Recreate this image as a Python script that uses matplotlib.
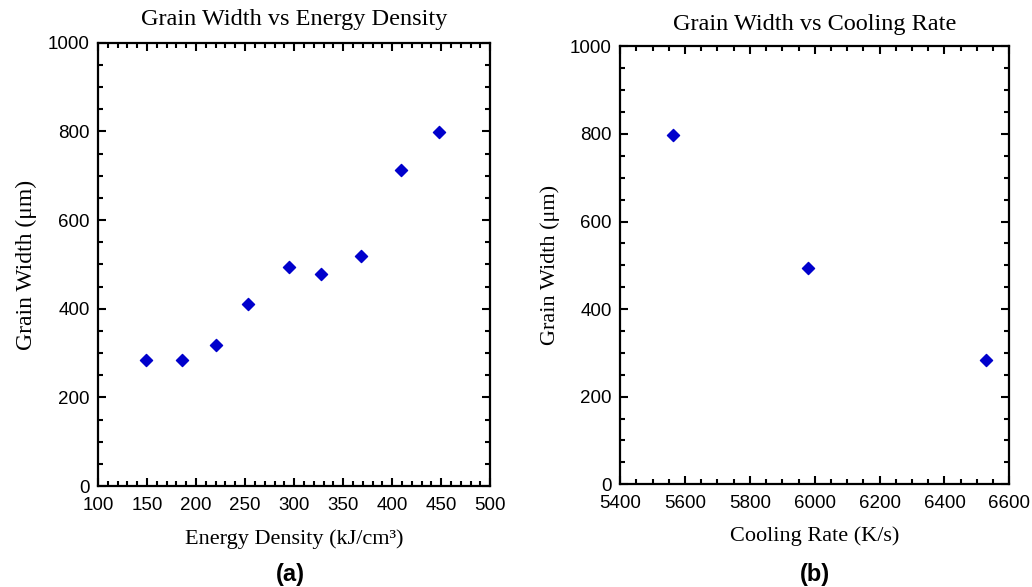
import matplotlib.pyplot as plt
from matplotlib.ticker import MultipleLocator

energy_density = [149, 186, 220, 253, 295, 327, 368, 409, 448]
width_a = [284, 284, 318, 411, 494, 478, 519, 713, 799]

cooling_rate = [5563, 5980, 6529]
width_b = [797, 493, 283]

serif = "Liberation Serif"
sans = "Liberation Sans"

fig = plt.figure(figsize=(10.32, 5.87), dpi=100)
ax1 = fig.add_axes([0.095, 0.172, 0.380, 0.755])
ax2 = fig.add_axes([0.601, 0.175, 0.377, 0.746])


def style(ax, xlim, xmaj, xmin):
    ax.set_xlim(*xlim)
    ax.set_ylim(0, 1000)
    ax.xaxis.set_major_locator(MultipleLocator(xmaj))
    ax.xaxis.set_minor_locator(MultipleLocator(xmin))
    ax.yaxis.set_major_locator(MultipleLocator(200))
    ax.yaxis.set_minor_locator(MultipleLocator(50))
    ax.tick_params(which="both", direction="in", top=True, right=True, width=1.5)
    ax.tick_params(which="major", length=6, labelsize=13.5)
    ax.tick_params(axis="x", which="major", pad=8)
    ax.tick_params(axis="y", which="major", pad=6)
    ax.tick_params(which="minor", length=3.5)
    for lab in ax.get_xticklabels() + ax.get_yticklabels():
        lab.set_family(sans)
    for s in ax.spines.values():
        s.set_linewidth(1.6)


ax1.scatter(energy_density, width_a, marker="D", s=38, color="#0000cc", zorder=3)
style(ax1, (100, 500), 50, 10)
ax1.set_title("Grain Width vs Energy Density", family=serif, fontsize=17.5, pad=13)
ax1.set_xlabel("Energy Density (kJ/cm³)", family=serif, fontsize=16, labelpad=11)
ax1.set_ylabel("Grain Width (μm)", family=serif, fontsize=17, labelpad=8)

ax2.scatter(cooling_rate, width_b, marker="D", s=38, color="#0000cc", zorder=3)
style(ax2, (5400, 6600), 200, 50)
ax2.set_title("Grain Width vs Cooling Rate", family=serif, fontsize=17.5, pad=12)
ax2.set_xlabel("Cooling Rate (K/s)", family=serif, fontsize=16, labelpad=10)
ax2.set_ylabel("Grain Width (μm)", family=serif, fontsize=16, labelpad=7)

fig.text(0.281, 0.01, "(a)", family=sans, fontweight="bold", fontsize=17, ha="center")
fig.text(0.790, 0.01, "(b)", family=sans, fontweight="bold", fontsize=17, ha="center")

fig.savefig("out.png", dpi=100)
